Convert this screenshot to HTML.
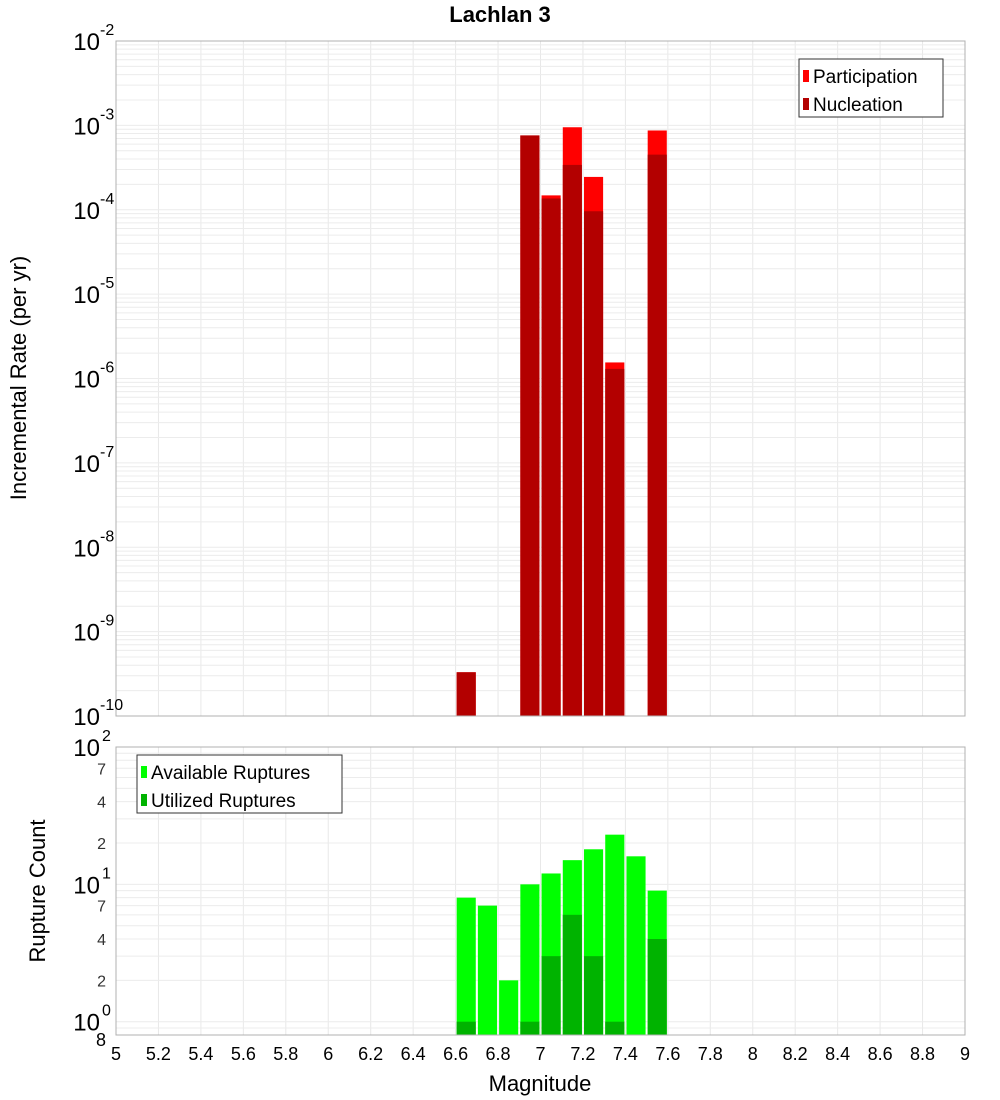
<!DOCTYPE html>
<html><head><meta charset="utf-8"><style>
html,body{margin:0;padding:0;background:#fff;}
svg{display:block;font-family:"Liberation Sans","DejaVu Sans",sans-serif;}
</style></head><body>
<svg id="c" width="1000" height="1100" xmlns="http://www.w3.org/2000/svg"></svg>
<script>
const binStarts=[6.6,6.9,7.0,7.1,7.2,7.3,7.5];
const participation=[3.3e-10,7.6e-4,1.48e-4,9.5e-4,2.45e-4,1.55e-6,8.7e-4];
const nucleation=[3.3e-10,7.6e-4,1.36e-4,3.4e-4,9.6e-5,1.3e-6,4.5e-4];
const countBins=[6.6,6.7,6.8,6.9,7.0,7.1,7.2,7.3,7.4,7.5];
const available=[8,7,2,10,12,15,18,23,16,9];
const utilized=[1,0,0,1,3,6,3,1,0,4];
const xTicks=[5,5.2,5.4,5.6,5.8,6,6.2,6.4,6.6,6.8,7,7.2,7.4,7.6,7.8,8,8.2,8.4,8.6,8.8,9];
const xTickLabels=["5","5.2","5.4","5.6","5.8","6","6.2","6.4","6.6","6.8","7","7.2","7.4","7.6","7.8","8","8.2","8.4","8.6","8.8","9"];
const topExps=[-2,-3,-4,-5,-6,-7,-8,-9,-10];
const botExps=[2,1,0];
const botMinor=[7,4,2];

const NS="http://www.w3.org/2000/svg";
const svg=document.getElementById('c');
function mk(tag,attrs,parent){const e=document.createElementNS(NS,tag);for(const k in attrs)e.setAttribute(k,attrs[k]);(parent||svg).appendChild(e);return e;}
const L=116,R=965,T1=41,B1=716,T2=747,B2=1035;
const x=m=>L+(m-5)/4*(R-L);
const y1=v=>B1-(Math.log10(v)+10)/8*(B1-T1);
const lo2=Math.log10(0.8),hi2=2;
const y2=v=>B2-(Math.log10(v)-lo2)/(hi2-lo2)*(B2-T2);

// title
let t=mk('text',{x:500,y:22,'text-anchor':'middle','font-size':22,'font-weight':'bold',fill:'#000'});t.textContent='Lachlan 3';


// plot areas
let g1=mk('g',{});
let g2=mk('g',{});
// grids
for(const m of xTicks){mk('line',{x1:x(m),x2:x(m),y1:T1,y2:B1,stroke:'#e8e8e8'},g1);mk('line',{x1:x(m),x2:x(m),y1:T2,y2:B2,stroke:'#e8e8e8'},g2);}
for(let e=-10;e<-2;e++)for(let k=1;k<10;k++){const yy=y1(k*Math.pow(10,e));mk('line',{x1:L,x2:R,y1:yy,y2:yy,stroke:'#ececec'},g1);}
for(let e=-1;e<2;e++)for(let k=1;k<10;k++){const v=k*Math.pow(10,e);if(v<0.8)continue;const yy=y2(v);mk('line',{x1:L,x2:R,y1:yy,y2:yy,stroke:'#ececec'},g2);}

// top bars
binStarts.forEach((m,i)=>{
 let b=mk('rect',{x:x(m+0.005),width:x(m+0.095)-x(m+0.005),y:y1(participation[i]),height:B1-y1(participation[i]),fill:'#ff0000'},g1);
 
 let n=mk('rect',{x:x(m+0.005),width:x(m+0.095)-x(m+0.005),y:y1(nucleation[i]),height:B1-y1(nucleation[i]),fill:'#b30000'},g1);
 
});
countBins.forEach((m,i)=>{
 let b=mk('rect',{x:x(m+0.005),width:x(m+0.095)-x(m+0.005),y:y2(available[i]),height:B2-y2(available[i]),fill:'#00ff00'},g2);
 
 if(utilized[i]>0){let u=mk('rect',{x:x(m+0.005),width:x(m+0.095)-x(m+0.005),y:y2(utilized[i]),height:B2-y2(utilized[i]),fill:'#00b300'},g2);
 }
});
mk('rect',{x:L,y:T1,width:R-L,height:B1-T1,fill:'none',stroke:'#b0b0b0'},g1);
mk('rect',{x:L,y:T2,width:R-L,height:B2-T2,fill:'none',stroke:'#b0b0b0'},g2);

// y tick labels top
topExps.forEach(e=>{const yy=y1(Math.pow(10,e));
 let tx=mk('text',{x:100,y:yy+9,'text-anchor':'end','font-size':24,fill:'#000'});tx.textContent='10';
 
 let ex=mk('text',{x:100,y:yy-6,'font-size':16,fill:'#000'});ex.textContent=String(e);
 });
botExps.forEach(e=>{const yy=y2(Math.pow(10,e));
 let tx=mk('text',{x:100,y:yy+9,'text-anchor':'end','font-size':24,fill:'#000'});tx.textContent='10';
 
 let ex=mk('text',{x:102,y:yy-6,'font-size':16,fill:'#000'});ex.textContent=String(e);
 
 if(e<2)botMinor.forEach(k=>{const v=k*Math.pow(10,e);let m=mk('text',{x:106,y:y2(v)+6,'text-anchor':'end','font-size':16,fill:'#333'});m.textContent=String(k);
 });});
let eight=mk('text',{x:106,y:B2+11,'text-anchor':'end','font-size':18,fill:'#000'});eight.textContent='8';


// x tick labels
xTicks.forEach((m,i)=>{let tx=mk('text',{x:x(m),y:1060,'text-anchor':'middle','font-size':18,fill:'#000'});tx.textContent=xTickLabels[i];
 });
let xt=mk('text',{x:540,y:1091,'text-anchor':'middle','font-size':22,fill:'#000'});xt.textContent='Magnitude';

let yt=mk('text',{transform:'translate(26,378) rotate(-90)','text-anchor':'middle','font-size':22,fill:'#000'});yt.textContent='Incremental Rate (per yr)';

let yt2=mk('text',{transform:'translate(45,891) rotate(-90)','text-anchor':'middle','font-size':22,fill:'#000'});yt2.textContent='Rupture Count';


// legends
function legend(gx,gy,w,items,name){const g=mk('g',{});
 mk('rect',{x:gx,y:gy,width:w,height:58,fill:'#fff',stroke:'#333'},g);
 items.forEach((it,i)=>{const cy=gy+17+i*28;
  let s=mk('rect',{x:gx+4,y:cy-6,width:6,height:12,fill:it[1]},g);
  let tx=mk('text',{x:gx+14,y:cy+7,'font-size':19,fill:'#000'},g);tx.textContent=it[0];});}
legend(799,59,144,[['Participation','#ff0000'],['Nucleation','#b30000']],'rate-legend');
legend(137,755,205,[['Available Ruptures','#00ff00'],['Utilized Ruptures','#00b300']],'count-legend');
</script>
</body></html>
